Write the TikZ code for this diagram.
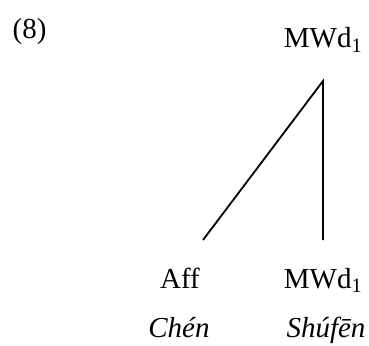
\documentclass[tikz,border=0pt]{standalone}
\usepackage{fontspec}
\setmainfont{Liberation Serif}
\begin{document}
\begin{tikzpicture}[x=1pt,y=-1pt,
  lbl/.style={font=\fontsize{29}{34}\selectfont, anchor=base, inner sep=0pt},
  branch/.style={line width=1.8pt, line cap=butt}]
\useasboundingbox (0,0) rectangle (369,345);
% example number
\node[lbl] (ex) at (29.5,38) {(8)};
% mother node
\node[lbl] (root) at (323,48) {MWd\textsubscript{1}};
% daughters
\node[lbl] (aff) at (180,288) {Aff};
\node[lbl] (mwd) at (323,288) {MWd\textsubscript{1}};
% glosses
\node[lbl] (chen) at (179,337) {\textit{Chén}};
\node[lbl] (shufen) at (326,337) {\textit{Shúfēn}};
% branch end points
\coordinate (apex) at (323,81);
\coordinate (leftend) at (203,240);
\coordinate (rightend) at (323,240);
\draw[branch] (leftend) -- (apex) -- (rightend);
\end{tikzpicture}
\end{document}
